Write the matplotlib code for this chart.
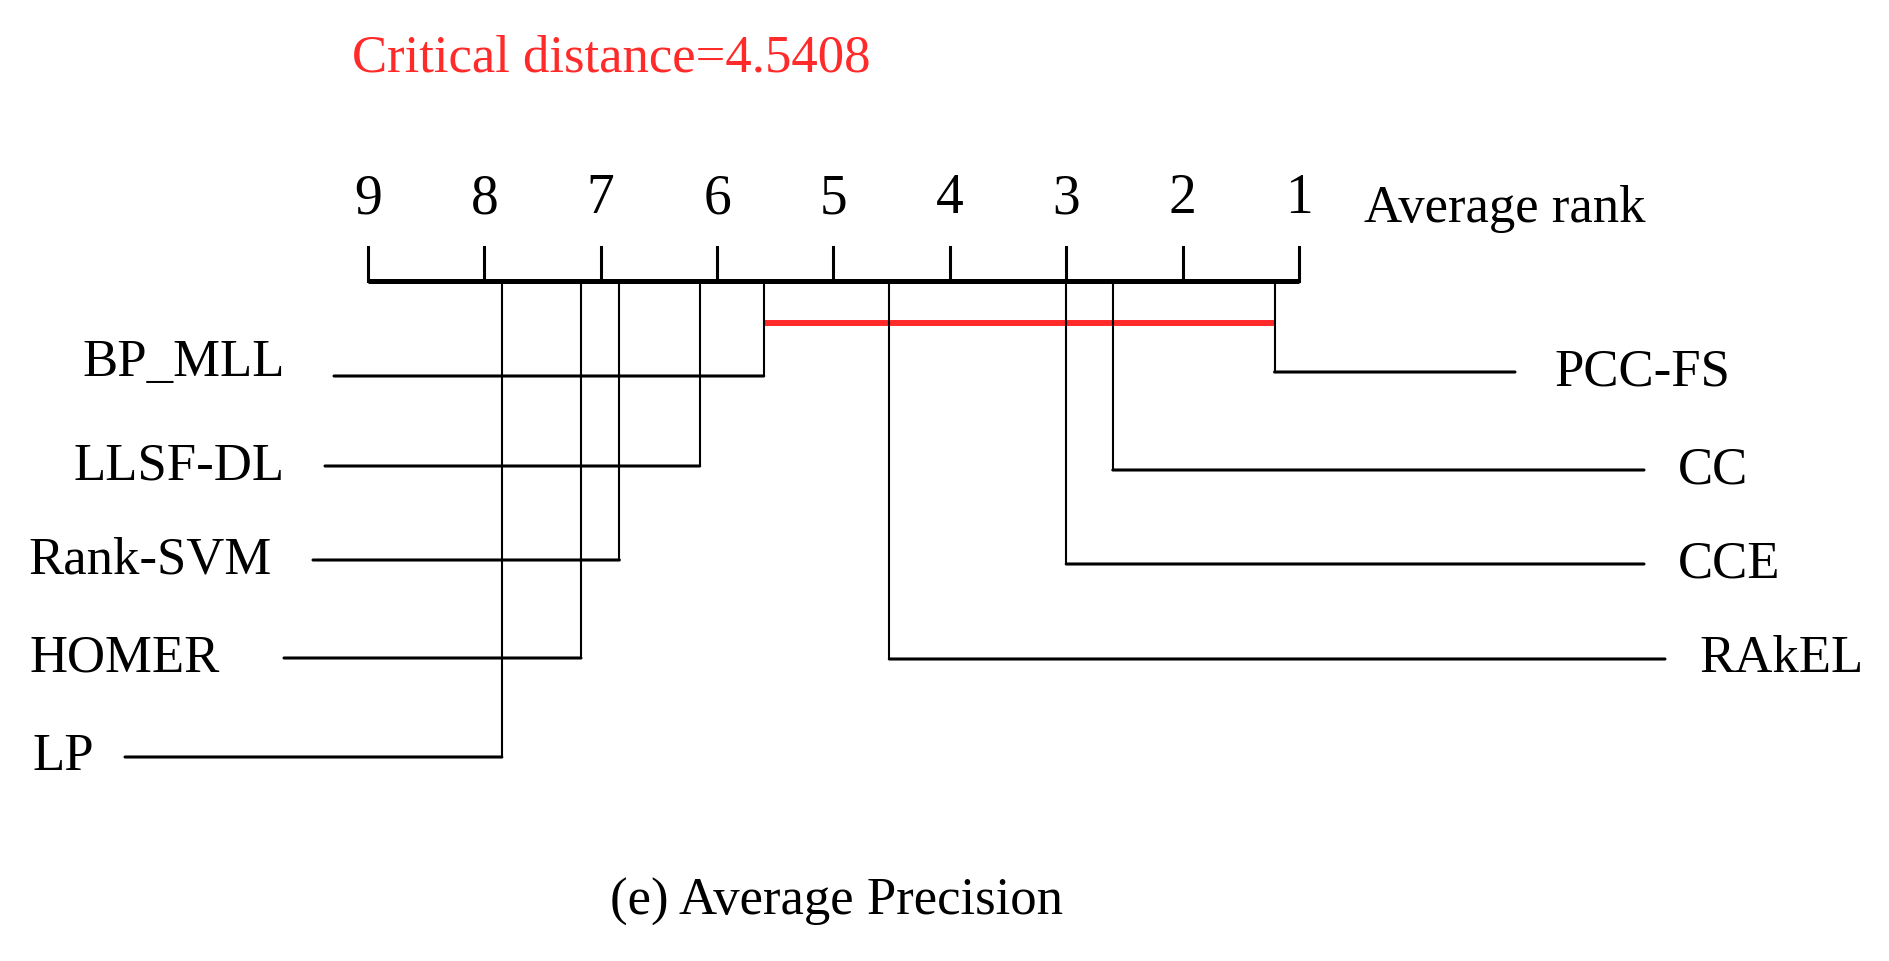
import matplotlib
matplotlib.use("Agg")

import matplotlib.pyplot as plt


methods = ["PCC-FS", "CC", "CCE", "RAkEL", "BP_MLL", "LLSF-DL", "Rank-SVM", "HOMER", "LP"]
avg_ranks = [1.21, 2.60, 3.00, 4.52, 5.60, 6.15, 6.84, 7.17, 7.85]
rank_ticks = [9, 8, 7, 6, 5, 4, 3, 2, 1]
critical_distance = 4.5408
axis_label = "Average rank"
caption = "(e) Average Precision"

W, H = 1889, 961
FONT = "Liberation Serif"
FS = 38
RED = "#ff2a2a"

# pixel layout of the diagram (rows, line ends, label anchors)
right_rows = [372, 470, 564, 659]
right_line_end = [1515, 1644, 1644, 1665]
right_text_x = [1554, 1678, 1678, 1699]
left_rows = [376, 466, 560, 658, 757]
left_line_start = [334, 325, 313, 284, 125]
left_text_x = [285, 285, 272, 220, 94]
left_text_dy = [-13, 0, 0, 0, 0]

axis_y = 281
tick_top = 247
cd_y = 323

plt.rcParams["font.family"] = [FONT, "DejaVu Serif"]

fig = plt.figure(figsize=(W / 100, H / 100), dpi=100)
ax = fig.add_axes([0, 0, 1, 1])

# rank 9 sits at x=368 px, rank 1 at x=1299 px
px_per_rank = (1299 - 368) / 8
ax.set_xlim(9 + 368 / px_per_rank, 9 - (W - 368) / px_per_rank)
ax.set_ylim(H, 0)
ax.axis("off")

xt = ax.get_yaxis_transform()  # x in axes fraction, y in pixels

# rank axis
ax.plot([max(rank_ticks), min(rank_ticks)], [axis_y, axis_y], color="black", lw=3.6,
        solid_capstyle="butt")
for t in rank_ticks:
    ax.plot([t, t], [tick_top, axis_y], color="black", lw=2.2)
    ax.text(t, 213, str(t), ha="center", va="baseline", fontsize=FS + 2)
ax.text(1364 / W, 222, axis_label, transform=xt, ha="left", va="baseline", fontsize=FS)

ax.text(352 / W, 72, f"Critical distance={critical_distance}", transform=xt,
        ha="left", va="baseline", fontsize=FS, color=RED)

# clique bar: methods within the critical distance of the best one
best = min(avg_ranks)
group = [r for r in avg_ranks if r - best <= critical_distance]
ax.plot([best, max(group)], [cd_y, cd_y], color=RED, lw=4.3, solid_capstyle="butt")

n_right = len(right_rows)
for i, (name, r) in enumerate(zip(methods, avg_ranks)):
    if i < n_right:
        y = right_rows[i]
        ax.plot([r, r], [axis_y, y], color="black", lw=1.5)
        ax.annotate("", xy=(right_line_end[i] / W, y), xycoords=xt,
                    xytext=(r, y), textcoords="data",
                    arrowprops=dict(arrowstyle="-", lw=2.2, color="black",
                                    shrinkA=0, shrinkB=0))
        ax.text(right_text_x[i] / W, y, name, transform=xt, ha="left",
                va="center", fontsize=FS)
    else:
        j = i - n_right
        y = left_rows[j]
        ax.plot([r, r], [axis_y, y], color="black", lw=1.5)
        ax.annotate("", xy=(left_line_start[j] / W, y), xycoords=xt,
                    xytext=(r, y), textcoords="data",
                    arrowprops=dict(arrowstyle="-", lw=2.2, color="black",
                                    shrinkA=0, shrinkB=0))
        ax.text(left_text_x[j] / W, y + left_text_dy[j], name, transform=xt,
                ha="right", va="center", fontsize=FS)

ax.text(837 / W, 902, caption, transform=xt, ha="center", va="center", fontsize=FS)

fig.savefig("out.png", dpi=100)
